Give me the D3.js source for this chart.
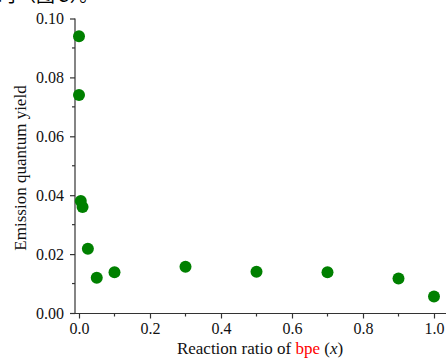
<!DOCTYPE html>
<html><head><meta charset="utf-8">
<script src="https://cdn.jsdelivr.net/npm/d3@7/dist/d3.min.js"></script>
<style>body{margin:0;background:#fff}svg{display:block}</style>
</head><body>
<svg id="c" width="446" height="359"></svg>
<script>
const ratios = [0, 0, 0.005, 0.01, 0.025, 0.05, 0.1, 0.3, 0.5, 0.7, 0.9, 1.0];
const yields = [0.094, 0.074, 0.038, 0.036, 0.0218, 0.012, 0.0138, 0.0157, 0.014, 0.0138, 0.0117, 0.0056];
const xTicks = [0, 0.2, 0.4, 0.6, 0.8, 1.0];
const yTicks = [0, 0.02, 0.04, 0.06, 0.08, 0.10];
const xMinor = [0.1, 0.3, 0.5, 0.7, 0.9];
const yMinor = [0.01, 0.03, 0.05, 0.07, 0.09];

const svg = d3.select("#c");
const font = "'Liberation Serif','Times New Roman',serif";
const x = d3.scaleLinear().domain([0, 1]).range([79, 434]);
const y = d3.scaleLinear().domain([0, 0.1]).range([313, 18.5]);
const axisColor = "#333";

// cut-off caption line at top of the crop
svg.append("text").attr("x", -2).attr("y", 1.5)
  .attr("font-family", "'Noto Sans CJK SC',sans-serif").attr("font-size", 19)
  .text("时（图 5）。");

// y axis
const gy = svg.append("g").attr("transform", "translate(75,0)")
  .call(d3.axisLeft(y).tickValues(yTicks).tickFormat(d3.format(".2f")).tickSize(5).tickPadding(6));
gy.selectAll(".domain").attr("d", `M0,${y(0.1)}V${y(0)+1}`);
gy.append("g").selectAll("line").data(yMinor).join("line")
  .attr("x1", 0).attr("x2", -3).attr("y1", d => y(d)).attr("y2", d => y(d));

// x axis
const gx = svg.append("g").attr("transform", "translate(0,313.5)")
  .call(d3.axisBottom(x).tickValues(xTicks).tickFormat(d3.format(".1f")).tickSize(5).tickPadding(4));
gx.selectAll(".domain").attr("d", "M74.5,0H446");
gx.append("g").selectAll("line").data(xMinor).join("line")
  .attr("y1", 0).attr("y2", 3).attr("x1", d => x(d)).attr("x2", d => x(d));

[gx, gy].forEach(g => {
  g.selectAll("path,line").attr("stroke", axisColor).attr("stroke-width", 1.2);
  g.selectAll("text").style("font-family", font).style("font-size", "16px").style("fill", "#111");
});

// points
svg.append("g").selectAll("circle").data(ratios.map((r, i) => [r, yields[i]])).join("circle")
  .attr("cx", d => x(d[0])).attr("cy", d => y(d[1])).attr("r", 6).attr("fill", "#008000");

// axis titles
const xt = svg.append("text").attr("x", 260).attr("y", 354).attr("text-anchor", "middle")
  .style("font-family", font).style("font-size", "17px").attr("fill", "#111");
xt.append("tspan").text("Reaction ratio of ");
xt.append("tspan").attr("fill", "#ff0000").text("bpe");
xt.append("tspan").text(" (");
xt.append("tspan").attr("font-style", "italic").text("x");
xt.append("tspan").text(")");

svg.append("text").attr("transform", "translate(26,168) rotate(-90)").attr("text-anchor", "middle")
  .style("font-family", font).style("font-size", "17px").attr("fill", "#111")
  .text("Emission quantum yield");
</script>
</body></html>
